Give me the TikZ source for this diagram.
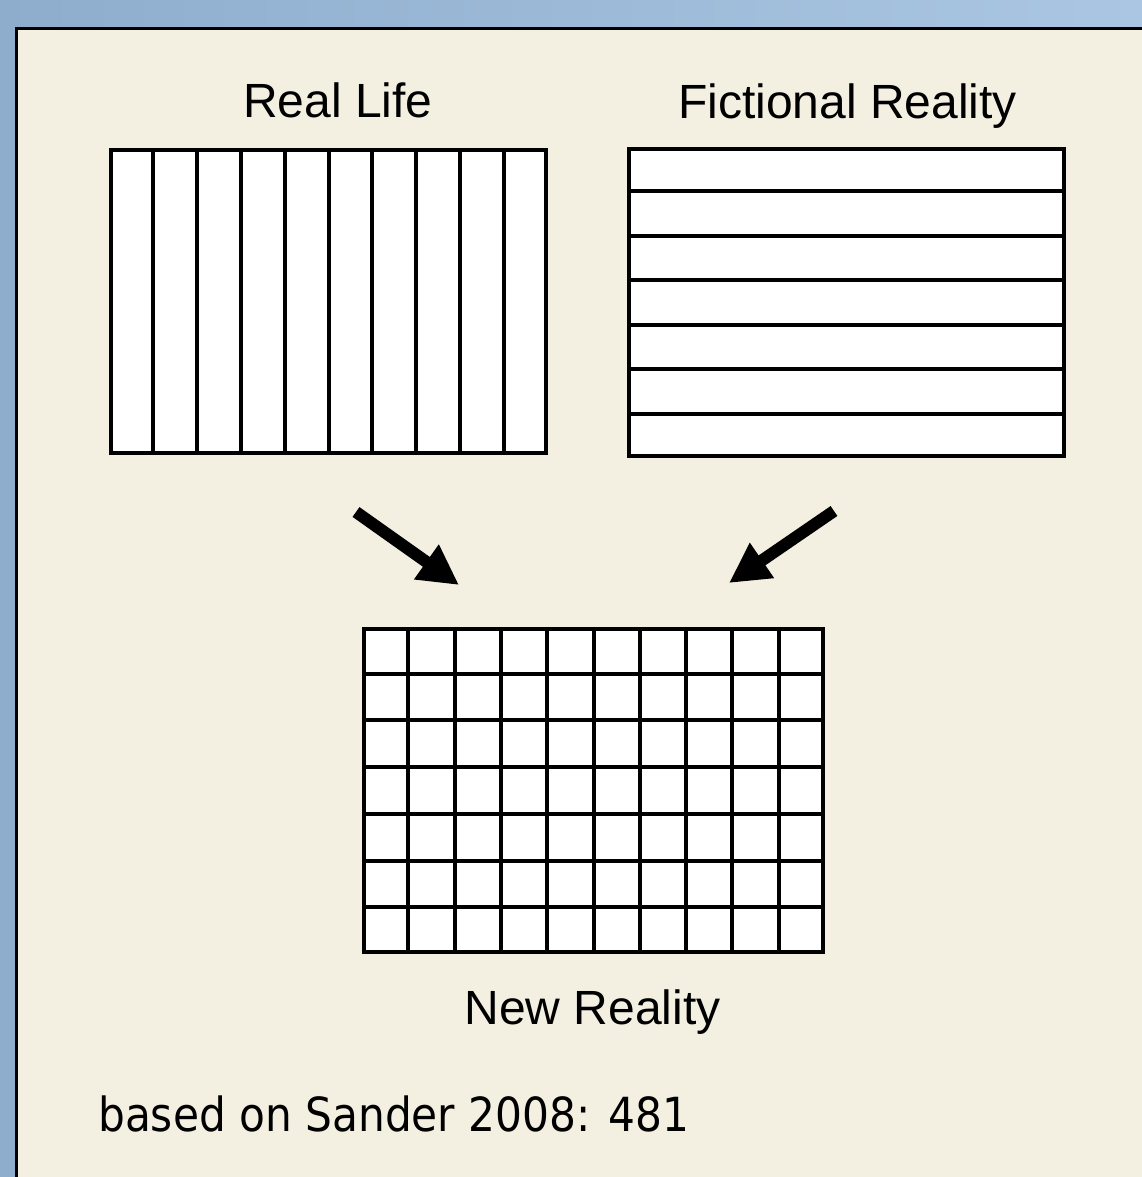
\documentclass[tikz,border=0pt]{standalone}
\usepackage{fontspec}
\setmainfont{Liberation Sans}
\newfontfamily\notefont[FakeStretch=0.9]{DejaVu Sans}
\usetikzlibrary{calc, positioning, arrows.meta}
\definecolor{frameblueleft}{RGB}{142,173,205}
\definecolor{framebluerightt}{RGB}{170,198,226}
\definecolor{panelbeige}{RGB}{243,240,226}

\begin{document}
\begin{tikzpicture}[
        x=1pt, y=-1pt,
        % Style pour les trois grilles
        gridbox/.style={
            draw=black,
            line width=4pt,
            fill=white,
            inner sep=0pt
        },
        % Lignes internes des grilles
        gridline/.style={
            draw=black,
            line width=4pt
        },
        % Titres au-dessus / au-dessous
        boxtitle/.style={
            anchor=base,
            inner sep=0pt,
            font=\fontsize{48}{50}\selectfont
        },
        % Grosses fleches noires
        mergearrow/.style={
            line width=12pt,
            -{Triangle[length=40pt,width=40pt]},
            black
        }
    ]

    \useasboundingbox (0,0) rectangle (1142,1177);

    % Fond bleu et panneau beige
    \shade[left color=frameblueleft, right color=framebluerightt] (0,0) rectangle (1142,1177);
    \fill[panelbeige] (16.5,28.5) rectangle (1142,1177);
    \draw[line width=3pt] (16.5,1177) |- (1142,28.5);

    % Les trois grilles
    \node[gridbox, minimum width=435pt, minimum height=303pt] (real) at (328.5,301.5) {};
    \node[gridbox, minimum width=435pt, minimum height=307pt] (fiction) at (846.5,302.5) {};
    \node[gridbox, minimum width=459pt, minimum height=323pt] (new) at (593.5,790.5) {};

    % Bandes verticales (Real Life)
    \foreach \i in {1,...,9}
        \draw[gridline] ($(real.north west)!\i/10!(real.north east)$) -- ($(real.south west)!\i/10!(real.south east)$);

    % Bandes horizontales (Fictional Reality)
    \foreach \j in {1,...,6}
        \draw[gridline] ($(fiction.north west)!\j/7!(fiction.south west)$) -- ($(fiction.north east)!\j/7!(fiction.south east)$);

    % Quadrillage (New Reality)
    \foreach \i in {1,...,9}
        \draw[gridline] ($(new.north west)!\i/10!(new.north east)$) -- ($(new.south west)!\i/10!(new.south east)$);
    \foreach \j in {1,...,6}
        \draw[gridline] ($(new.north west)!\j/7!(new.south west)$) -- ($(new.north east)!\j/7!(new.south east)$);

    % Titres
    \node[boxtitle] (realtitle) at (338,118) {Real Life};
    \node[boxtitle] (fictiontitle) at (847.5,119) {Fictional Reality};
    \node[boxtitle] (newtitle) at (592.5,1024) {New Reality};

    % Source
    \node[anchor=base west, inner sep=0pt, font=\notefont\fontsize{47}{50}\selectfont] (source) at (98,1131) {based on Sander 2008: 481};

    % Fleches vers la nouvelle realite
    \coordinate (leftstart) at (356,512);
    \coordinate (lefttip) at (459,585);
    \coordinate (rightstart) at (834,511);
    \coordinate (righttip) at (729,583);
    \draw[mergearrow] (leftstart) -- (lefttip);
    \draw[mergearrow] (rightstart) -- (righttip);

\end{tikzpicture}
\end{document}
